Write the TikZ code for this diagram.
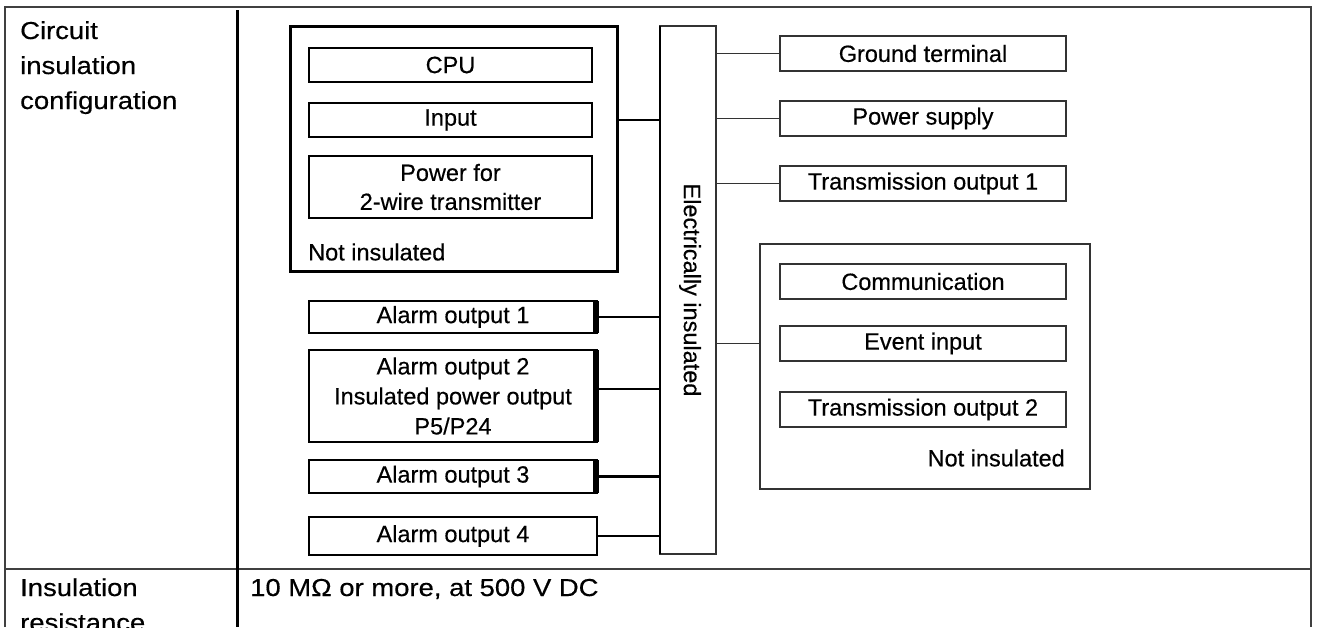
\documentclass[tikz,border=0pt]{standalone}
\usepackage{fontspec}
\setmainfont[FakeBold=0.4]{Liberation Sans}
\newfontfamily\tabfont[FakeStretch=1.12, FakeBold=0.4]{Liberation Sans}
\usetikzlibrary{positioning}
\tikzstyle{unit}=[draw, line width=2.5pt, minimum width=283pt, minimum height=34pt,
	inner sep=0, outer sep=0, align=center, font=\fontsize{23.5}{29}\selectfont]
\tikzstyle{alarm}=[unit, minimum width=288pt]
\tikzstyle{port}=[draw=black!80, line width=1.3pt, minimum width=286pt, minimum height=35pt,
	inner sep=0, outer sep=0, align=center, font=\fontsize{23.5}{29}\selectfont]
\tikzstyle{group}=[draw, inner sep=0, outer sep=0]
\tikzstyle{lbl}=[inner sep=0, font=\fontsize{23.5}{29}\selectfont]
\tikzstyle{tabtext}=[inner sep=0, anchor=base west, font=\tabfont\fontsize{24.5}{25}\selectfont]
\tikzstyle{wire}=[line width=2.5pt]
\tikzstyle{tline}=[line width=1.3pt, black!80]
\tikzstyle{rule}=[line width=1.5pt, black!75]

\begin{document}
\begin{tikzpicture}[x=1pt, y=-1pt]
	\useasboundingbox (0,0) rectangle (1318,627);
	\clip (0,0) rectangle (1318,627);
	% table frame
	\draw[rule] (5,627) -- (5,7) -- (1311,7) -- (1311,627);
	\draw[rule] (5,569) -- (1311,569);
	\draw[line width=3pt] (237,10) -- (237,627);
	\node[tabtext] (cfg1) at (20,39) {Circuit};
	\node[tabtext] (cfg2) at (20,74) {insulation};
	\node[tabtext] (cfg3) at (20,109) {configuration};
	\node[tabtext] (res1) at (20,596) {Insulation};
	\node[tabtext] (res2) at (20,631) {resistance};
	\node[tabtext] (resval) at (250,596) {10 MΩ or more, at 500 V DC};
	% not insulated group, left
	\node[group, line width=3pt, minimum width=327pt, minimum height=245pt] (notins1) at (453.5,148.5) {};
	\node[unit] (cpu) at (450.5,65) {CPU};
	\node[unit, below=21pt of cpu] (input) {Input};
	\node[unit, below=19pt of input, minimum height=62pt] (power2w) {Power for\\2-wire transmitter};
	\node[lbl, anchor=west] (ni1) at (308,252) {Not insulated};
	% alarm outputs
	\node[alarm, minimum height=32pt] (al1) at (453,317) {Alarm output 1};
	\node[alarm, below=17pt of al1, minimum height=92pt, font=\fontsize{23.5}{30}\selectfont] (al2) {Alarm output 2\\Insulated power output\\P5/P24};
	\node[alarm, below=18pt of al2, minimum height=33pt] (al3) {Alarm output 3};
	\node[alarm, below=24pt of al3, minimum height=38pt] (al4) {Alarm output 4};
	\foreach \a in {al1,al2,al3}
		\draw[line width=6pt] ([xshift=-1.5pt]\a.north east) -- ([xshift=-1.5pt]\a.south east);
	% insulation bus
	\node[draw=black!80, line width=1.3pt, minimum width=56pt, minimum height=528pt,
		inner sep=0, outer sep=0] (bus) at (688,290) {};
	\draw[wire] (bus.north west) -- (bus.south west);
	\node[lbl, rotate=-90] (buslbl) at (690,290) {Electrically insulated};
	% right side
	\node[port] (gnd) at (923,53.5) {Ground terminal};
	\node[port, below=30pt of gnd] (psu) {Power supply};
	\node[port, below=30pt of psu] (tx1) {Transmission output 1};
	\node[group, draw=black!80, line width=1.3pt, minimum width=330pt, minimum height=245pt] (notins2) at (925,366.5) {};
	\node[port] (comm) at (923,281.5) {Communication};
	\node[port, below=27pt of comm] (evt) {Event input};
	\node[port, below=31pt of evt] (tx2) {Transmission output 2};
	\node[lbl, anchor=east] (ni2) at (1065,458) {Not insulated};
	% connections
	\draw[wire] (input -| notins1.east) -- (input -| bus.west);
	\foreach \a in {al1,al3,al4}
		\draw[wire] (\a.east) -- (\a -| bus.west);
	\draw[wire] ([yshift=7pt]al2.east) -- ([yshift=7pt]al2.east -| bus.west);
	\foreach \p in {gnd,psu,tx1}
		\draw[tline] (\p -| bus.east) -- (\p.west);
	\draw[tline] (evt -| bus.east) -- (evt -| notins2.west);
\end{tikzpicture}
\end{document}
